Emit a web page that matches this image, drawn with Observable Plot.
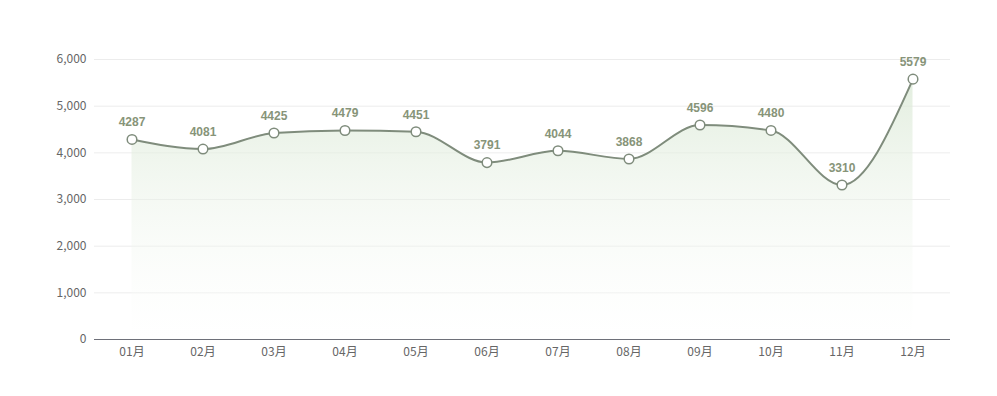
<!DOCTYPE html>
<html>
<head>
<meta charset="utf-8">
<script src="https://cdn.jsdelivr.net/npm/d3@7"></script>
<script src="https://cdn.jsdelivr.net/npm/@observablehq/plot@0.6"></script>
<style>
  html, body { margin: 0; padding: 0; background: #fff; }
  #chart svg { display: block; }
</style>
</head>
<body>
<div id="chart"></div>
<script>
const months = ["01月","02月","03月","04月","05月","06月","07月","08月","09月","10月","11月","12月"];
const values = [4287, 4081, 4425, 4479, 4451, 3791, 4044, 3868, 4596, 4480, 3310, 5579];
const yTicks = [0, 1000, 2000, 3000, 4000, 5000, 6000];

const data = months.map((m, i) => ({month: m, value: values[i]}));
const lineColor = "#7f8c7c";
const font = "'Noto Sans CJK SC', 'Noto Sans', sans-serif";

const chart = Plot.plot({
  width: 997,
  height: 396,
  marginLeft: 94,
  marginRight: 47,
  marginTop: 59,
  marginBottom: 57,
  style: {fontFamily: font, fontSize: "12px", color: "#666", background: "#fff"},
  x: {type: "band", domain: months, padding: 0, label: null, tickSize: 0, tickPadding: 8},
  y: {domain: [0, 6000], ticks: yTicks, label: null, tickSize: 0, tickPadding: 8, tickFormat: d3.format(",")},
  marks: [
    Plot.gridY(yTicks, {stroke: "#e0e0e0", strokeOpacity: 0.6}),
    Plot.areaY(data, {x: "month", y: "value", curve: "monotone-x", fill: "url(#areaGrad)"}),
    Plot.ruleY([0], {stroke: "#6e7079", strokeWidth: 1}),
    Plot.lineY(data, {x: "month", y: "value", curve: "monotone-x", stroke: lineColor, strokeWidth: 2}),
    Plot.dot(data, {x: "month", y: "value", r: 4.8, fill: "#fff", stroke: lineColor, strokeWidth: 1.5}),
    Plot.text(data, {x: "month", y: "value", text: d => String(d.value), dy: -17, fill: "#879479", fontWeight: "bold", fontSize: 12, fontFamily: "'Liberation Sans', Arial, sans-serif"})
  ]
});

const defs = d3.create("svg:defs");
const g = defs.append("linearGradient").attr("id", "areaGrad").attr("x1", 0).attr("y1", 0).attr("x2", 0).attr("y2", 1);
g.append("stop").attr("offset", "0%").attr("stop-color", "#d9e8d4").attr("stop-opacity", 0.75);
g.append("stop").attr("offset", "100%").attr("stop-color", "#ffffff").attr("stop-opacity", 0.2);
chart.insertBefore(defs.node(), chart.firstChild);

document.getElementById("chart").appendChild(chart);
</script>
</body>
</html>
